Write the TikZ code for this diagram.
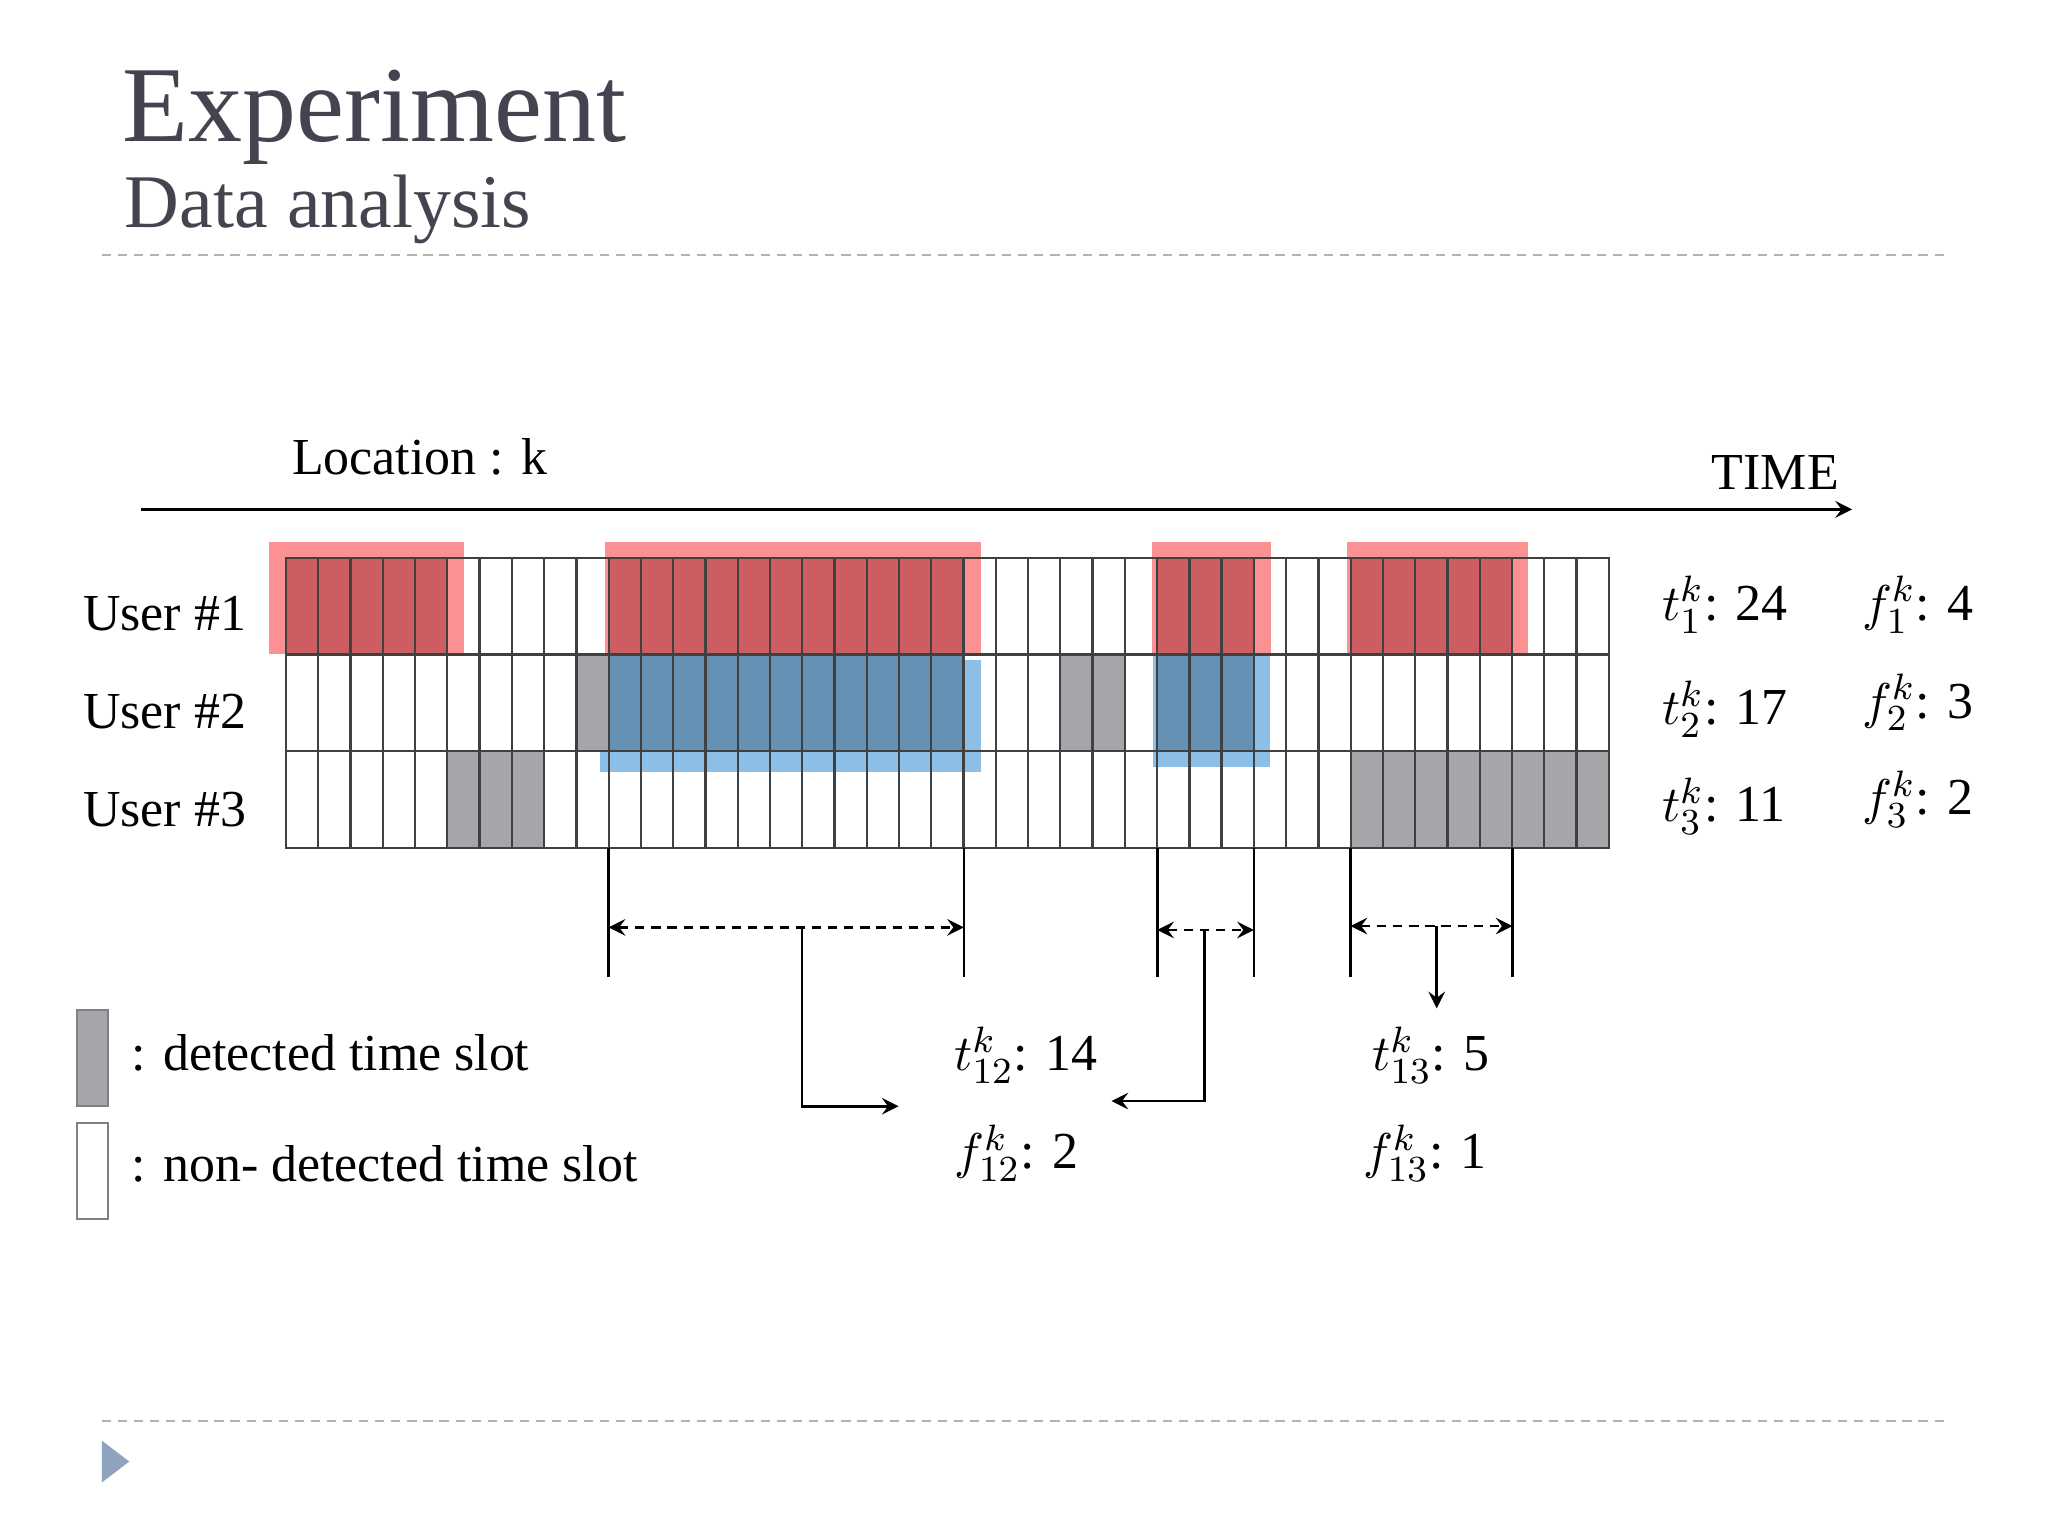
\documentclass[tikz,border=0pt]{standalone}
\usepackage{fontspec}
\setmainfont{Liberation Serif}
\begin{document}
\begin{tikzpicture}[x=0.01cm,y=-0.01cm,
  cellbox/.style={draw=black!75,line width=0.5pt},
  lbl/.style={anchor=west,inner sep=0pt,font=\fontsize{11.3}{13}\selectfont},
  conn/.style={line width=0.6pt},
  dimarrow/.style={conn,dash pattern=on 2pt off 1.5pt,<->,>=stealth}]
\definecolor{slotgray}{RGB}{166,165,170}
\definecolor{pinkov}{RGB}{252,145,148}
\definecolor{redcell}{RGB}{204,94,98}
\definecolor{blueov}{RGB}{140,190,230}
\definecolor{bluecell}{RGB}{100,145,180}
\definecolor{titlec}{RGB}{68,68,80}
\useasboundingbox (0,0) rectangle (1568,1176);
% title
\node[anchor=west,inner sep=0pt,text=titlec,font=\fontsize{23.5}{28}\selectfont] (title) at (93,90) {Experiment};
\node[anchor=west,inner sep=0pt,text=titlec,font=\fontsize{16.5}{20}\selectfont] (sub) at (95,160) {Data analysis};
\draw[gray!60,dash pattern=on 2pt off 1.5pt,line width=0.5pt] (78,195) -- (1490,195);
\draw[gray!60,dash pattern=on 2pt off 1.5pt,line width=0.5pt] (78,1088) -- (1490,1088);
\fill[color={rgb,255:red,143;green,163;blue,191}] (78,1103) -- (99,1119) -- (78,1135) -- cycle;
% axis
\coordinate (axs) at (108,390); \coordinate (axe) at (1418,390);
\draw[conn,->,>=stealth] (axs) -- (axe);
\node[lbl] (loc) at (223,350) {Location : k};
\node[lbl] (time) at (1310,362) {TIME};
% overlays
\fill[pinkov] (206,415) rectangle (355,501);
\fill[pinkov] (463,415) rectangle (751,501);
\fill[pinkov] (882,415) rectangle (973,501);
\fill[pinkov] (1031,415) rectangle (1170,501);
\fill[blueov] (459,505) rectangle (751,591);
\fill[blueov] (883,501) rectangle (972,587);
% grid
\foreach \c in {0,...,40} \foreach \r in {0,1,2}
  \draw[cellbox] (219+24.7*\c,427+74*\r) rectangle ++(24.7,74);
\foreach \c in {0,...,4,10,11,...,20,27,28,29,33,34,...,37}
  \draw[cellbox,fill=redcell] (219+24.7*\c,427) rectangle ++(24.7,74);
\foreach \c in {9,24,25}
  \draw[cellbox,fill=slotgray] (219+24.7*\c,501) rectangle ++(24.7,74);
\foreach \c in {10,...,20,27,28,29}
  \draw[cellbox,fill=bluecell] (219+24.7*\c,501) rectangle ++(24.7,74);
\foreach \c in {5,6,7,33,34,...,40}
  \draw[cellbox,fill=slotgray] (219+24.7*\c,575) rectangle ++(24.7,74);
% row labels
\node[lbl] (u1) at (63,470) {User \#1};
\node[lbl] (u2) at (63,545) {User \#2};
\node[lbl] (u3) at (63,620) {User \#3};
\node[lbl] (t1) at (1272,463) {$t_1^k$: 24};
\node[lbl] (t2) at (1272,543) {$t_2^k$: 17};
\node[lbl] (t3) at (1272,617) {$t_3^k$: 11};
\node[lbl] (f1) at (1425,463) {$f_1^k$: 4};
\node[lbl] (f2) at (1425,538) {$f_2^k$: 3};
\node[lbl] (f3) at (1425,612) {$f_3^k$: 2};
% brackets
\foreach \n/\x in {a/466,b/738,c/886,d/960,e/1034,f/1158}{
  \coordinate (\n top) at (\x,649); \coordinate (\n bot) at (\x,748);
  \draw[conn] (\n top) -- (\n bot);}
\coordinate (am) at (466,710); \coordinate (bm) at (738,710);
\coordinate (cm) at (886,712); \coordinate (dm) at (960,712);
\coordinate (em) at (1034,709); \coordinate (fm) at (1158,709);
\draw[dimarrow] (am) -- (bm);
\draw[dimarrow] (cm) -- (dm);
\draw[dimarrow] (em) -- (fm);
\node[lbl] (t12) at (730,808) {$t_{12}^k$: 14};
\node[lbl] (f12) at (730,883) {$f_{12}^k$: 2};
\node[lbl] (t13) at (1050,808) {$t_{13}^k$: 5};
\node[lbl] (f13) at (1043,883) {$f_{13}^k$: 1};
\coordinate (m1) at (614,710); \coordinate (e1) at (688,847);
\coordinate (m2) at (922,712); \coordinate (e2) at (851,843);
\coordinate (m3) at (1100,709); \coordinate (e3) at (1100,772);
\draw[conn,->,>=stealth] (m1) |- (e1);
\draw[conn,->,>=stealth] (m2) |- (e2);
\draw[conn,->,>=stealth] (m3) -- (e3);
% legend
\draw[draw=black!50,fill=slotgray] (59,773) rectangle (83,847);
\draw[draw=black!50] (59,860) rectangle (83,933);
\node[lbl] (lg1) at (100,806) {: detected time slot};
\node[lbl] (lg2) at (100,891) {: non- detected time slot};
\end{tikzpicture}
\end{document}
